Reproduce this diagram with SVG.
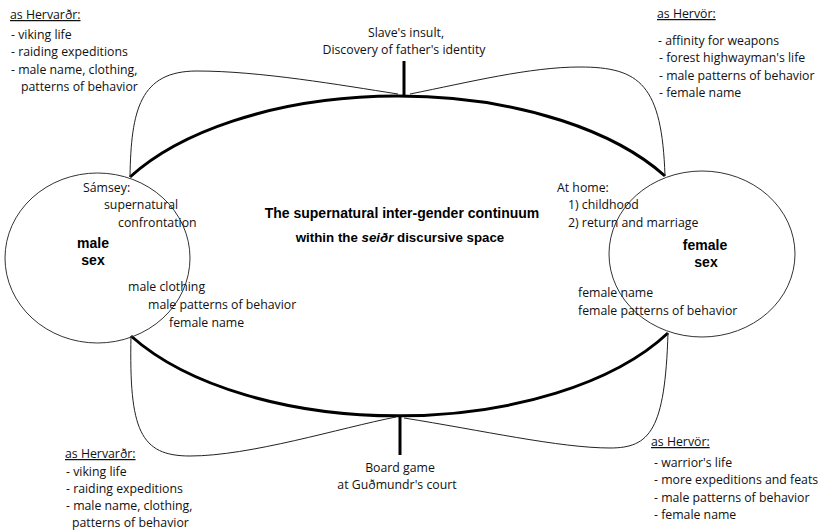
<svg xmlns="http://www.w3.org/2000/svg" width="827" height="531" viewBox="0 0 827 531">
<style>
.t{font-family:"Open Sans","Noto Sans",sans-serif;font-size:12.3px;fill:#111}
.u{text-decoration:underline}
.b{font-family:"Liberation Sans",Arial,sans-serif;font-weight:bold;fill:#000}
.thin{fill:none;stroke:#222;stroke-width:1}
.thick{fill:none;stroke:#000;stroke-width:3}
.circ{fill:none;stroke:#333;stroke-width:1}
</style>
<rect width="827" height="531" fill="#fff"/>
<g id="connectors">
<path class="thick" d="M130,177 A309,161 0 0 1 665,176"/>
<path class="thick" d="M131,336 A309,161 0 0 0 668,333"/>
<path class="thick" d="M404,61 V95"/>
<path class="thick" d="M400,416 V455"/>
<path class="thin" d="M130,177 C131,110 140,71 197,71 C260,71 340,85 398,94"/>
<path class="thin" d="M410,94 C470,82 530,67 580,67 C640,67 662,85 665,176"/>
<path class="thin" d="M131,336 C129,430 140,456 190,456 C250,456 340,428 396,417"/>
<path class="thin" d="M404,418 C480,430 560,448 610,448 C650,448 665,430 668,333"/>
</g>
<g id="male-sex">
<ellipse class="circ" cx="97.5" cy="258" rx="92.5" ry="85"/>
<text class="b" font-size="14" x="93" y="248" text-anchor="middle">male</text>
<text class="b" font-size="14" x="93" y="265" text-anchor="middle">sex</text>
<text class="t" x="83" y="192">Sámsey:</text>
<text class="t" x="104" y="209">supernatural</text>
<text class="t" x="118" y="227">confrontation</text>
<text class="t" x="128" y="291">male clothing</text>
<text class="t" x="148" y="309">male patterns of behavior</text>
<text class="t" x="169" y="327">female name</text>
</g>
<g id="female-sex">
<ellipse class="circ" cx="702" cy="254" rx="93" ry="83"/>
<text class="b" font-size="14" x="705" y="250" text-anchor="middle">female</text>
<text class="b" font-size="14" x="706" y="267" text-anchor="middle">sex</text>
<text class="t" x="557" y="192">At home:</text>
<text class="t" x="568" y="209">1) childhood</text>
<text class="t" x="568" y="227">2) return and marriage</text>
<text class="t" x="578" y="297">female name</text>
<text class="t" x="578" y="315">female patterns of behavior</text>
</g>
<g id="continuum">
<text class="b" font-size="14" x="402" y="218" text-anchor="middle">The supernatural inter-gender continuum</text>
<text class="b" font-size="13.3" x="400" y="242" text-anchor="middle">within the <tspan font-style="italic">seiðr</tspan> discursive space</text>
</g>
<g id="slave-insult">
<text class="t" x="406" y="37" text-anchor="middle">Slave's insult,</text>
<text class="t" x="404" y="54" text-anchor="middle">Discovery of father's identity</text>
</g>
<g id="board-game">
<text class="t" x="400" y="472" text-anchor="middle">Board game</text>
<text class="t" x="397" y="489" text-anchor="middle">at Guðmundr's court</text>
</g>
<g id="hervardr-top">
<text class="t u" x="10" y="19">as Hervarðr:</text>
<text class="t" x="11" y="39">- viking life</text>
<text class="t" x="11" y="56">- raiding expeditions</text>
<text class="t" x="11" y="74">- male name, clothing,</text>
<text class="t" x="21" y="91">patterns of behavior</text>
</g>
<g id="hervor-top">
<text class="t u" x="657" y="18">as Hervör:</text>
<text class="t" x="658" y="45">- affinity for weapons</text>
<text class="t" x="659" y="62">- forest highwayman's life</text>
<text class="t" x="659" y="80">- male patterns of behavior</text>
<text class="t" x="659" y="97">- female name</text>
</g>
<g id="hervardr-bottom">
<text class="t u" x="65" y="458">as Hervarðr:</text>
<text class="t" x="66" y="476">- viking life</text>
<text class="t" x="66" y="493">- raiding expeditions</text>
<text class="t" x="66" y="510">- male name, clothing,</text>
<text class="t" x="72" y="527">patterns of behavior</text>
</g>
<g id="hervor-bottom">
<text class="t u" x="651" y="446">as Hervör:</text>
<text class="t" x="654" y="467">- warrior's life</text>
<text class="t" x="654" y="484">- more expeditions and feats</text>
<text class="t" x="654" y="502">- male patterns of behavior</text>
<text class="t" x="654" y="519">- female name</text>
</g>
</svg>
